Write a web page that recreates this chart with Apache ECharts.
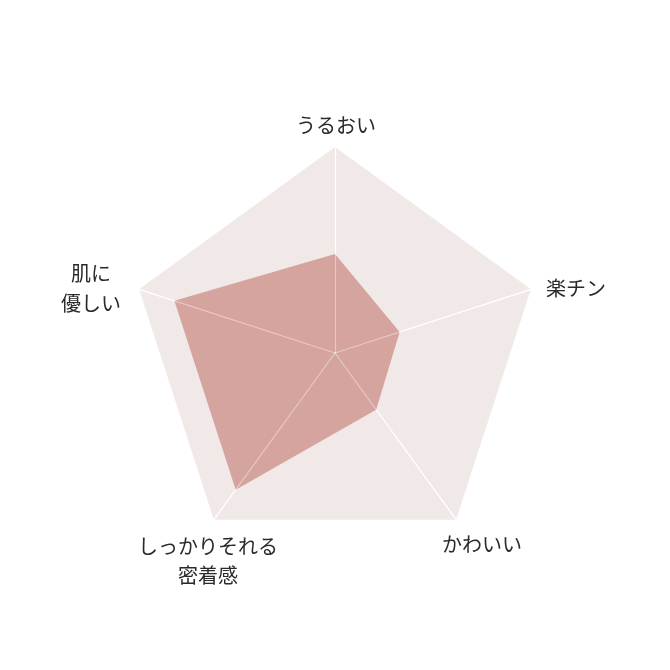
<!DOCTYPE html>
<html lang="ja">
<head>
    <meta charset="UTF-8">
    <title>レーダーチャート</title>
    <script src="https://cdn.jsdelivr.net/npm/echarts@6/dist/echarts.min.js"></script>
    <style>
        html, body { margin: 0; padding: 0; background: #fff; }
    </style>
</head>
<body>
<div id="main" style="width: 670px;height:670px;"></div>
<script type="text/javascript">
    // 項目名（上から反時計回り：ECharts の並び順）
    var indicatorNames = ['うるおい', '肌に\n優しい', 'しっかりそれる\n密着感', 'かわいい', '楽チン'];
    // 評価値（最大100）
    var scores = [48, 82, 82, 34, 33];
    var maxScore = 100;

    var myChart = echarts.init(document.getElementById('main'));

    var labelFont = '"Noto Sans CJK JP", "Noto Sans", sans-serif';
    var indicators = indicatorNames.map(function (n) {
        return { name: n, max: maxScore, min: 0 };
    });

    function label(i, x, y, lh) {
        return {
            type: 'text', x: x, y: y, silent: true,
            style: {
                text: indicatorNames[i], align: 'center', verticalAlign: 'middle',
                font: '20px ' + labelFont, lineHeight: lh || 20, fill: '#2a2a2a'
            }
        };
    }

    var radarBase = {
        center: [335, 353],
        radius: 206,
        startAngle: 90,
        splitNumber: 1,
        shape: 'polygon',
        indicator: indicators,
        axisName: { show: false },
        splitLine: { show: false },
        axisTick: { show: false },
        axisLabel: { show: false }
    };

    myChart.setOption({
        backgroundColor: '#ffffff',
        radar: [
            // 背景の五角形と白い軸線
            Object.assign({}, radarBase, {
                axisLine: { lineStyle: { color: '#ffffff', width: 1.2 } },
                splitArea: { areaStyle: { color: ['#f0e9e8'] } }
            }),
            // データ領域の上に重ねる半透明の軸線
            Object.assign({}, radarBase, {
                z: 5,
                axisLine: { lineStyle: { color: 'rgba(255,255,255,0.4)', width: 1.2 } },
                splitArea: { show: false }
            })
        ],
        series: [{
            type: 'radar',
            radarIndex: 0,
            silent: true,
            symbol: 'none',
            lineStyle: { width: 0 },
            areaStyle: { color: '#d5a49f', opacity: 1 },
            data: [{ value: scores }]
        }],
        // 項目ラベル（位置は元図に合わせて手動配置）
        graphic: [
            label(0, 336, 125),
            label(1, 91, 288, 30),
            label(2, 208, 561, 29),
            label(3, 482, 544),
            label(4, 576, 288)
        ]
    });
</script>
</body>
</html>
